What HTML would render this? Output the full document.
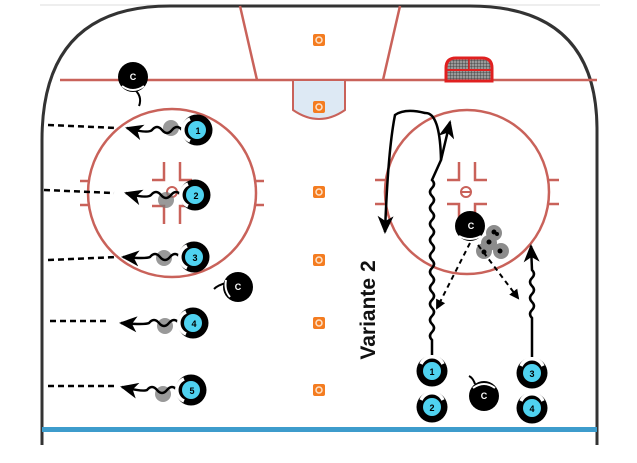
<!DOCTYPE html>
<html><head><style>body{margin:0;background:#fff}svg{display:block}</style></head><body>
<svg width="637" height="463" viewBox="0 0 637 463" xmlns="http://www.w3.org/2000/svg" font-family="Liberation Sans, sans-serif">
<defs>
<marker id="ah" markerWidth="10" markerHeight="10" refX="8" refY="5" orient="auto" markerUnits="userSpaceOnUse"><path d="M0,0 L10,5 L0,10 Z" fill="#000"/></marker>
<marker id="ahb" markerWidth="18" markerHeight="16" refX="16" refY="8" orient="auto" markerUnits="userSpaceOnUse"><path d="M0,0 L18,8 L0,16 L5,8 Z" fill="#000"/></marker>
<g id="p"><circle r="15.5" fill="#000"/><path d="M-11,-7 A12,12 0 0 1 11,-7" stroke="#fff" stroke-width="3.5" fill="none"/><circle r="9" fill="#4fd2f0"/></g>
<g id="pl"><circle r="15.5" fill="#000"/><path d="M-7,-11 A12,12 0 0 0 -7,11" stroke="#fff" stroke-width="3.5" fill="none"/><circle r="9" fill="#4fd2f0"/></g>
<pattern id="mesh" width="3" height="3" patternUnits="userSpaceOnUse"><rect width="3" height="3" fill="#999"/><path d="M0,0 H3 M0,0 V3" stroke="#333" stroke-width="0.8"/></pattern>
</defs>
<line x1="40" y1="5" x2="600" y2="5" stroke="#ddd" stroke-width="1"/>
<path d="M42,445 L42,140 Q42,6 170,6 L470,6 Q597,6 597,130 L597,445" fill="none" stroke="#333" stroke-width="3"/>
<rect x="42" y="427" width="555" height="5" fill="#3d9ccc"/>
<g stroke="#c9625a" stroke-width="2.5" fill="none">
<line x1="60" y1="80" x2="597" y2="80"/>
<line x1="240" y1="6" x2="257" y2="80"/>
<line x1="400" y1="6" x2="383" y2="80"/>
<circle cx="172" cy="193" r="84"/>
<circle cx="467" cy="192" r="82"/>
<path d="M80,181 h8 M80,205 h8 M256,181 h8 M256,205 h8 M375,180 h10 M375,204 h10 M549,180 h10 M549,204 h10"/>
<path d="M164,162 v18 h-12 M180,162 v18 h12 M164,224 v-18 h-12 M180,224 v-18 h12"/>
<path d="M459,162 v18 h-12 M475,162 v18 h12 M459,222 v-18 h-12 M475,222 v-18 h12"/>
</g>
<circle cx="172" cy="192" r="5" fill="none" stroke="#c9625a" stroke-width="2"/>
<circle cx="466" cy="192" r="5" fill="none" stroke="#c9625a" stroke-width="2"/><line x1="462" y1="192" x2="470" y2="192" stroke="#c9625a" stroke-width="2"/>
<path d="M293,80 V110 Q319,128 345,110 V80 Z" fill="#dde9f4" stroke="#c9625a" stroke-width="2"/>
<path d="M446,81 V68 Q446,58 456,58 H482 Q492,58 492,68 V81 Z" fill="url(#mesh)" stroke="#e02020" stroke-width="3"/>
<line x1="446" y1="70" x2="491" y2="70" stroke="#e02020" stroke-width="2"/>
<line x1="469" y1="58" x2="469" y2="70" stroke="#e02020" stroke-width="1.5"/>
<g fill="#f47c20"><rect x="313" y="34" width="12" height="12" rx="2"/><rect x="313" y="101" width="12" height="12" rx="2"/><rect x="313" y="186" width="12" height="12" rx="2"/><rect x="313" y="254" width="12" height="12" rx="2"/><rect x="313" y="317" width="12" height="12" rx="2"/><rect x="313" y="384" width="12" height="12" rx="2"/></g>
<g fill="none" stroke="#fde2c8" stroke-width="1.5"><circle cx="319" cy="40" r="3"/><circle cx="319" cy="107" r="3"/><circle cx="319" cy="192" r="3"/><circle cx="319" cy="260" r="3"/><circle cx="319" cy="323" r="3"/><circle cx="319" cy="390" r="3"/></g>
<g stroke="#000" stroke-width="2.5" fill="none" stroke-dasharray="6,4">
<line x1="48" y1="125" x2="118" y2="128"/><line x1="44" y1="190" x2="114" y2="193"/><line x1="48" y1="260" x2="118" y2="257"/><line x1="50" y1="321" x2="110" y2="321"/><line x1="48" y1="386" x2="115" y2="386"/>
</g>
<g fill="#777" opacity="0.75"><circle cx="171" cy="128" r="8"/><circle cx="166" cy="200" r="8"/><circle cx="164" cy="258" r="8"/><circle cx="165" cy="326" r="8"/><circle cx="163" cy="394" r="8"/></g>
<g stroke="#000" stroke-width="2.5" fill="none" marker-end="url(#ahb)">
<path d="M182,130 q-5,-6 -10,0 q-5,6 -10,0 q-5,-6 -10,0 q-4,4 -25,-2"/>
<path d="M181,195 q-5,-6 -10,0 q-5,6 -10,0 q-5,-6 -10,0 q-4,4 -25,-2"/>
<path d="M180,257 q-5,-6 -10,0 q-5,6 -10,0 q-5,-6 -10,0 q-4,2 -27,0"/>
<path d="M179,323 q-5,-6 -10,0 q-5,6 -10,0 q-5,-6 -10,0 q-4,2 -28,0"/>
<path d="M177,390 q-5,-6 -10,0 q-5,6 -10,0 q-5,-6 -10,0 q-4,2 -25,-3"/>
</g>
<use href="#pl" x="197" y="130"/><use href="#pl" x="195" y="195"/><use href="#pl" x="194" y="257"/><use href="#pl" x="193" y="323"/><use href="#pl" x="191" y="390"/>
<g font-size="9" font-weight="bold" text-anchor="middle" fill="#000"><text x="198" y="134">1</text><text x="196" y="199">2</text><text x="195" y="261">3</text><text x="194" y="327">4</text><text x="192" y="394">5</text></g>
<path d="M133,88 q10,8 6,18" stroke="#000" stroke-width="2" fill="none"/>
<circle cx="133" cy="77" r="15" fill="#000"/><path d="M122,86 Q133,94 144,86" stroke="#fff" stroke-width="2" fill="none"/>
<path d="M226,283 q-8,2 -12,6" stroke="#000" stroke-width="2" fill="none"/>
<circle cx="238" cy="287" r="15" fill="#000"/><path d="M226,280 Q224,290 230,297" stroke="#fff" stroke-width="2" fill="none"/>
<circle cx="470" cy="226" r="15" fill="#000"/><path d="M459,236 Q470,242 481,236" stroke="#fff" stroke-width="2" fill="none"/>
<path d="M475,384 q-2,-6 -6,-8" stroke="#000" stroke-width="2" fill="none"/>
<circle cx="484" cy="396" r="15" fill="#000"/><path d="M473,388 Q484,380 495,388" stroke="#fff" stroke-width="2" fill="none"/>
<g font-size="9" font-weight="bold" text-anchor="middle" fill="#fff"><text x="133" y="80">C</text><text x="238" y="290">C</text><text x="471" y="229">C</text><text x="484" y="399">C</text></g>
<g fill="#666" opacity="0.75"><circle cx="494" cy="233" r="8"/><circle cx="489" cy="243" r="8"/><circle cx="484" cy="251" r="8"/><circle cx="501" cy="251" r="8"/></g>
<g fill="#000"><circle cx="494" cy="232" r="2.5"/><circle cx="489" cy="242" r="2.5"/><circle cx="484" cy="252" r="2.5"/><circle cx="500" cy="251" r="2.5"/><circle cx="497" cy="234" r="2"/></g>
<g stroke="#000" stroke-width="2.5" fill="none">
<path d="M432,357 L432,340 q-4,-4 0,-8 q4,-4 0,-8 q-4,-4 0,-8 q4,-4 0,-8 q-4,-4 0,-8 q4,-4 0,-8 q-4,-4 0,-8 q4,-4 0,-8 q-4,-4 0,-8 q4,-4 0,-8 q-4,-4 0,-8 q4,-4 0,-8 q-4,-4 0,-8 q4,-4 0,-8 q-4,-4 0,-8 q4,-4 0,-8 q-4,-4 0,-8 q4,-4 0,-8 q-4,-4 0,-8 q4,-4 0,-8 L441,160 Q440,112 425,113 Q405,108 395,115 Q388,150 385,232" marker-end="url(#ahb)"/>
<path d="M441,160 L450,122" marker-end="url(#ahb)"/>
<path d="M532,357 L532,318 q-4,-4 0,-8 q4,-4 0,-8 q-4,-4 0,-8 q4,-4 0,-8 q-4,-4 0,-8 q4,-4 0,-8 L531,246" marker-end="url(#ahb)"/>
</g>
<g stroke="#000" stroke-width="2" fill="none" stroke-dasharray="5,4" marker-end="url(#ah)">
<line x1="470" y1="243" x2="437" y2="308"/><line x1="478" y1="245" x2="518" y2="298"/>
</g>
<use href="#p" x="432" y="371"/><use href="#p" x="432" y="407"/><use href="#p" x="532" y="373"/><use href="#p" x="532" y="408"/>
<g font-size="9" font-weight="bold" text-anchor="middle" fill="#000"><text x="432" y="375">1</text><text x="432" y="411">2</text><text x="532" y="377">3</text><text x="532" y="412">4</text></g>
<text transform="translate(375,310) rotate(-90)" font-size="21" font-weight="bold" text-anchor="middle" fill="#111">Variante 2</text>
</svg>
</body></html>
